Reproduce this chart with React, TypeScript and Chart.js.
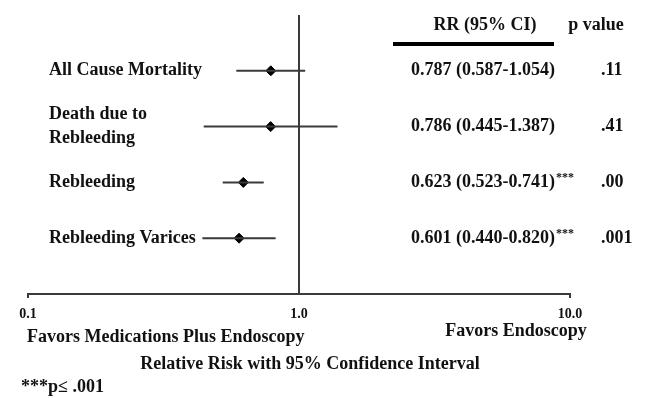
import React, { useEffect, useRef } from 'react';
import { Chart, registerables } from 'chart.js';

Chart.register(...registerables);

// ---- data ----
const rowLabels: string[][] = [
  ['All Cause Mortality'],
  ['Death due to', 'Rebleeding'],
  ['Rebleeding'],
  ['Rebleeding Varices'],
];
const rowPositions = [1, 2, 3, 4];
const rrValues = [0.787, 0.786, 0.623, 0.601];
const ciLower = [0.587, 0.445, 0.523, 0.44];
const ciUpper = [1.054, 1.387, 0.741, 0.82];
const ciTexts = ['0.787 (0.587-1.054)', '0.786 (0.445-1.387)', '0.623 (0.523-0.741)', '0.601 (0.440-0.820)'];
const significant = [false, false, true, true];
const pValues = ['.11', '.41', '.00', '.001'];
const xTickValues = [0.1, 1, 10];
const xTickLabels = ['0.1', '1.0', '10.0'];
const referenceValue = 1;

const FONT = '"Liberation Serif", "Times New Roman", serif';
const INK = '#111';
const LINE = '#3a3a3a';

export default function App() {
  const ref = useRef<HTMLCanvasElement>(null);

  useEffect(() => {
    if (!ref.current) return;

    const textPlugin = {
      id: 'forestText',
      afterDraw(chart: any) {
        const { ctx, scales } = chart;
        const ys = scales.y;
        ctx.save();
        ctx.fillStyle = INK;
        ctx.textBaseline = 'middle';
        ctx.font = `bold 18px ${FONT}`;

        rowLabels.forEach((lines, i) => {
          const cy = ys.getPixelForValue(rowPositions[i]);
          const lh = 24;
          ctx.textAlign = 'left';
          lines.forEach((l, j) => {
            ctx.fillText(l, 49, cy + (j - (lines.length - 1) / 2) * lh);
          });
          ctx.font = `bold 18px ${FONT}`;
          ctx.fillText(ciTexts[i], 411, cy);
          if (significant[i]) {
            const w = ctx.measureText(ciTexts[i]).width;
            ctx.font = `bold 12px ${FONT}`;
            ctx.fillText('***', 411 + w + 1, cy - 4);
            ctx.font = `bold 18px ${FONT}`;
          }
          ctx.fillText(pValues[i], 601, cy);
        });

        // header
        ctx.textAlign = 'center';
        ctx.fillText('RR (95% CI)', 485, 25);
        ctx.fillText('p value', 596, 25);
        ctx.strokeStyle = '#000';
        ctx.lineWidth = 4;
        ctx.beginPath();
        ctx.moveTo(393, 44);
        ctx.lineTo(554, 44);
        ctx.stroke();

        // bottom texts
        ctx.textAlign = 'left';
        ctx.fillText('Favors Medications Plus Endoscopy', 27, 337);
        ctx.textAlign = 'center';
        ctx.fillText('Favors Endoscopy', 516, 331);
        ctx.fillText('Relative Risk with 95% Confidence Interval', 310, 364);
        ctx.textAlign = 'left';
        ctx.fillText('***p\u2264 .001', 21, 387);
        ctx.restore();
      },
    };

    const ciDatasets = rowPositions.map((pos, i) => ({
      type: 'scatter' as const,
      data: [
        { x: ciLower[i], y: pos },
        { x: ciUpper[i], y: pos },
      ],
      showLine: true,
      borderColor: LINE,
      borderWidth: 2,
      pointRadius: 0,
      clip: false,
    }));

    const chart = new Chart(ref.current, {
      type: 'scatter',
      data: {
        datasets: [
          {
            type: 'scatter',
            data: [
              { x: referenceValue, y: 0 },
              { x: referenceValue, y: 5 },
            ],
            showLine: true,
            borderColor: LINE,
            borderWidth: 2,
            pointRadius: 0,
            clip: false,
          } as any,
          ...ciDatasets,
          {
            type: 'scatter',
            data: rowPositions.map((pos, i) => ({ x: rrValues[i], y: pos })),
            pointStyle: 'rectRot',
            pointRadius: 5,
            backgroundColor: '#000',
            borderColor: '#000',
            borderWidth: 1,
            clip: false,
          } as any,
        ],
      },
      options: {
        animation: false,
        responsive: false,
        events: [],
        layout: { padding: { left: 28, right: 76, top: 15, bottom: 0 } },
        plugins: { legend: { display: false }, tooltip: { enabled: false } },
        scales: {
          x: {
            type: 'logarithmic',
            min: 0.1,
            max: 10,
            afterBuildTicks: (s: any) => {
              s.ticks = xTickValues.map((v) => ({ value: v }));
            },
            afterFit: (s: any) => {
              s.height = 104;
            },
            ticks: {
              autoSkip: false,
              maxRotation: 0,
              padding: 8,
              color: INK,
              font: { family: FONT, size: 14, weight: 'bold' },
              callback: (v: any) => {
                const idx = xTickValues.findIndex((t) => Math.abs(t - Number(v)) < 1e-9);
                return idx >= 0 ? xTickLabels[idx] : '';
              },
            },
            grid: {
              drawOnChartArea: false,
              drawTicks: true,
              tickLength: 4,
              lineWidth: 2,
              color: (c: any) => (c.index === 1 ? 'rgba(0,0,0,0)' : LINE),
            },
            border: { display: true, color: LINE, width: 2 },
          },
          y: {
            type: 'linear',
            min: 0,
            max: 5,
            reverse: true,
            display: false,
          },
        },
      } as any,
      plugins: [textPlugin],
    });

    return () => chart.destroy();
  }, []);

  return (
    <div style={{ position: 'absolute', left: 0, top: 0, width: 646, height: 398, background: '#fff' }}>
      <canvas ref={ref} width={646} height={398} style={{ display: 'block' }} />
    </div>
  );
}
